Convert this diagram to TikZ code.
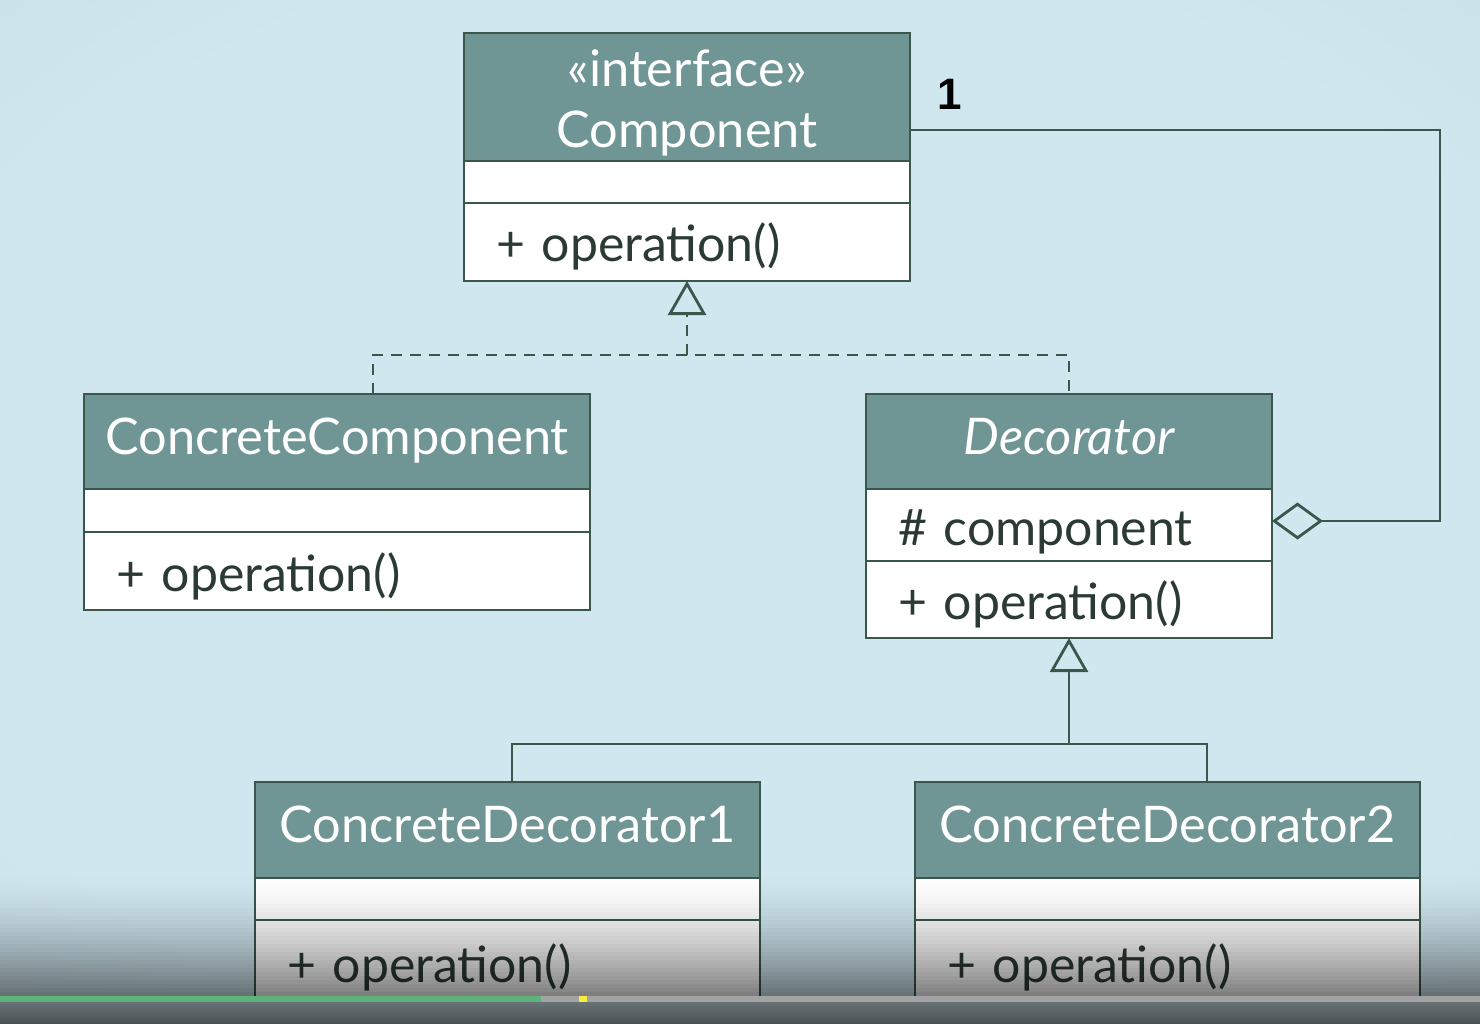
\documentclass[tikz,border=0pt]{standalone}
\usepackage{fontspec}
\setmainfont{Lato}
\newfontfamily\numfont{Liberation Sans}
\usetikzlibrary{arrows.meta,calc}
\definecolor{bgc}{HTML}{D0E7F0}
\definecolor{bge}{HTML}{B6C9CF}
\definecolor{hdr}{HTML}{6F9594}
\definecolor{edge}{HTML}{39574B}
\definecolor{ink}{HTML}{2C3A34}
\definecolor{bargrey}{HTML}{A3A3A3}
\definecolor{bargreen}{HTML}{5DB37A}
\definecolor{baryellow}{HTML}{F5EE3A}
\definecolor{darktop}{HTML}{687175}
\definecolor{darkbot}{HTML}{4A5155}
\pgfdeclareradialshading{vignette}{\pgfpoint{0bp}{0bp}}{color(0bp)=(bgc); color(28bp)=(bgc); color(72bp)=(bge)}
\begin{document}
\begin{tikzpicture}[x=1pt,y=-1pt,
  hdrbox/.style={draw=edge, line width=2.8pt, outer sep=0pt, fill=hdr, text=white, inner sep=0pt, align=center, text height=36pt, text depth=11pt, font=\fontsize{50.5}{57}\selectfont},
  hdrtext/.style={text=white, inner sep=0pt, anchor=base, font=\fontsize{50.5}{57}\selectfont},
  emptybox/.style={draw=edge, line width=2.8pt, outer sep=0pt, fill=white, inner sep=0pt},
  bodybox/.style={draw=edge, line width=2.8pt, outer sep=0pt, fill=white, text=ink, inner xsep=32pt, inner ysep=0pt, align=left, text height=48pt, text depth=8pt, font=\fontsize{50}{56}\selectfont},
  conn/.style={draw=edge, line width=2.8pt},
  dashconn/.style={conn, dash pattern=on 11pt off 8pt},
  realize/.style={-{Triangle[open,length=34pt,width=38pt]}},
  aggr/.style={{Diamond[open,length=51pt,width=37pt]}-}
]
\useasboundingbox (0,0) rectangle (1480,1024);
\shade[shading=vignette] (0,0) rectangle (1480,1024);

% Component
\node[draw=edge, line width=2.8pt, outer sep=0pt, fill=hdr, inner sep=0pt, anchor=north west, minimum width=446pt, minimum height=128pt] (comp-h) at (464,33) {};
\node[hdrtext] (comp-st) at ($(comp-h.north)+(0,54)$) {«interface»};
\node[hdrtext] (comp-name) at ($(comp-h.north)+(0,115)$) {Component};
\node[emptybox, anchor=north west, minimum width=446pt, minimum height=42pt] (comp-a) at (comp-h.south west) {};
\node[bodybox, anchor=north west, minimum height=78pt, text width=382pt] (comp-o) at (comp-a.south west) {+ operation()};

% ConcreteComponent
\node[hdrbox, anchor=north west, minimum width=506pt, minimum height=95pt] (cc-h) at (84,394) {ConcreteComponent};
\node[emptybox, anchor=north west, minimum width=506pt, minimum height=43pt] (cc-a) at (cc-h.south west) {};
\node[bodybox, anchor=north west, minimum height=78pt, text width=442pt] (cc-o) at (cc-a.south west) {+ operation()};

% Decorator
\node[hdrbox, anchor=north west, minimum width=406pt, minimum height=95pt] (dec-h) at (866,394) {\itshape Decorator};
\node[bodybox, anchor=north west, minimum height=72pt, text width=342pt] (dec-a) at (dec-h.south west) {\# component};
\node[bodybox, anchor=north west, minimum height=77pt, text width=342pt] (dec-o) at (dec-a.south west) {+ operation()};

% ConcreteDecorator1
\node[hdrbox, anchor=north west, minimum width=505pt, minimum height=96pt] (cd1-h) at (255,782) {ConcreteDecorator1};
\node[emptybox, anchor=north west, minimum width=505pt, minimum height=42pt] (cd1-a) at (cd1-h.south west) {};
\node[bodybox, anchor=north west, minimum height=84pt, text width=441pt] (cd1-o) at (cd1-a.south west) {+ operation()};

% ConcreteDecorator2
\node[hdrbox, anchor=north west, minimum width=505pt, minimum height=96pt] (cd2-h) at (915,782) {ConcreteDecorator2};
\node[emptybox, anchor=north west, minimum width=505pt, minimum height=42pt] (cd2-a) at (cd2-h.south west) {};
\node[bodybox, anchor=north west, minimum height=84pt, text width=441pt] (cd2-o) at (cd2-a.south west) {+ operation()};

% multiplicity
\node[font=\numfont\fontsize{44}{44}\selectfont\bfseries, text=black] (mult) at (950,94) {1};

% realization (dashed)
\coordinate (ry) at (0,355);
\coordinate (rj) at (comp-o.south |- ry);
\draw[dashconn, realize] (rj) -- (comp-o.south);
\draw[dashconn] ($(cc-h.north west)+(289,0)$) |- (rj) -| (dec-h.north);

% generalization
\coordinate (gy) at (0,744);
\coordinate (gj) at (dec-o.south |- gy);
\draw[conn, realize] (gj) -- (dec-o.south);
\draw[conn] ($(cd1-h.north west)+(257,0)$) |- (gj) -| ($(cd2-h.north west)+(292,0)$);

% aggregation
\coordinate (ac) at ($(comp-h.south east)+(530,-31)$);
\draw[conn, aggr] ($(dec-a.east)+(0,-4)$) -| (ac) -- ($(comp-h.south east)+(0,-31)$);

% video overlay (darkening towards the bottom)
\foreach \i in {0,...,29}{
  \pgfmathsetmacro{\op}{0.5*((\i+1)/30)^1.6}
  \fill[black, fill opacity=\op] (0,876+4*\i) rectangle (1480,880+4*\i);
}
\fill[bargrey] (0,996) rectangle (1480,1002);
\fill[bargreen] (0,996) rectangle (541,1002);
\fill[baryellow] (579,996) rectangle (587,1002);
\shade[top color=darktop, bottom color=darkbot] (0,1002) rectangle (1480,1024);
\end{tikzpicture}
\end{document}
